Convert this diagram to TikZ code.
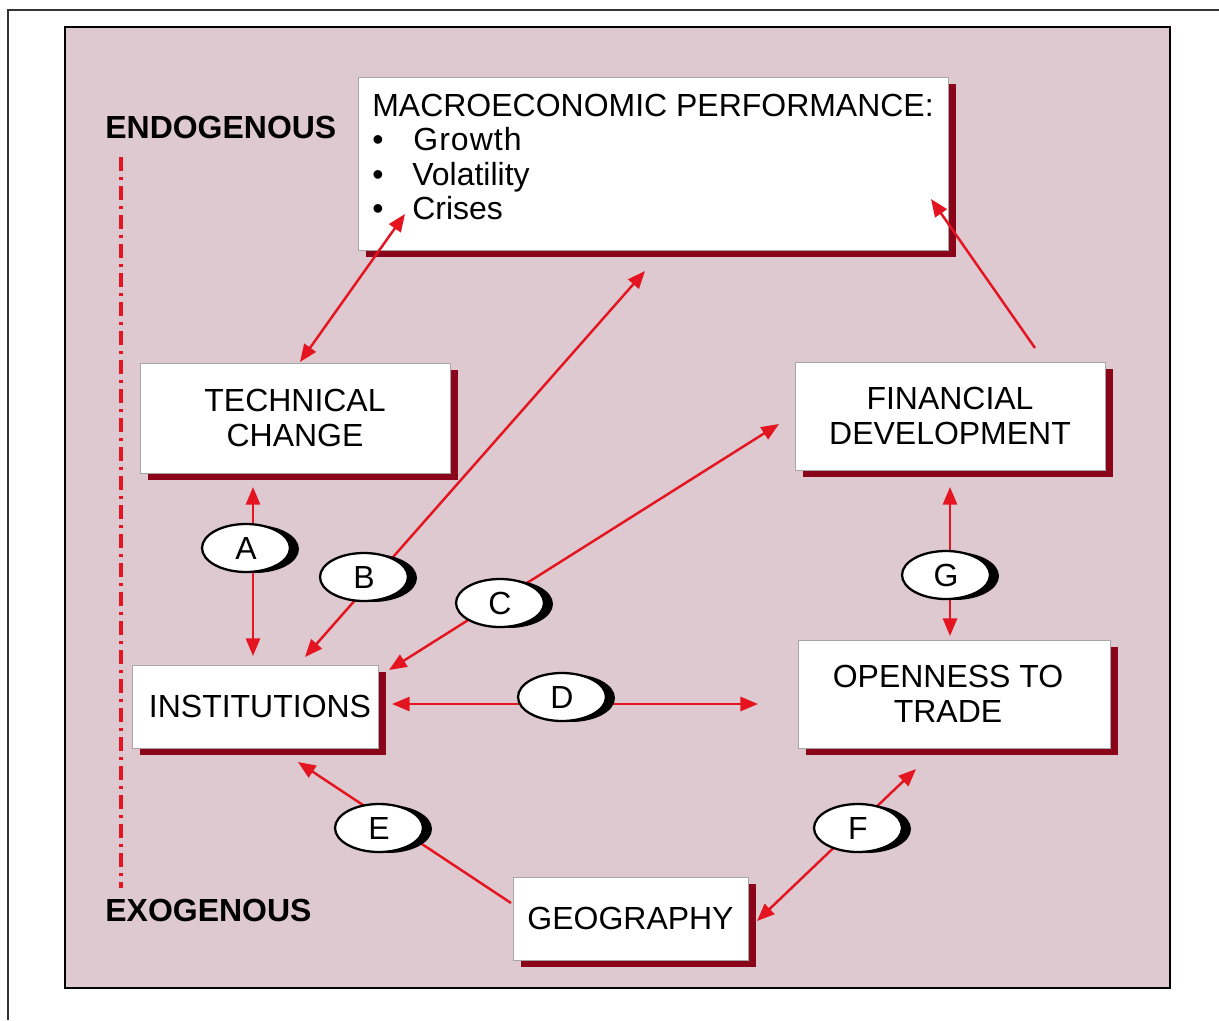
\documentclass[tikz,border=0pt]{standalone}
\usepackage{fontspec}
\setmainfont{Liberation Sans}
\usetikzlibrary{shapes.geometric,shadows,arrows.meta,calc}
\definecolor{bgpink}{RGB}{221,201,207}
\definecolor{ared}{RGB}{228,20,32}
\definecolor{sred}{RGB}{138,4,26}
\newcommand{\fsz}{\fontsize{18.2pt}{19.6pt}\selectfont}
\begin{document}
\begin{tikzpicture}[x=0.02cm,y=-0.02cm,
  box/.style={rectangle, draw=black!35, line width=0.5pt, fill=white, inner sep=0pt, align=center, font=\fsz,
     drop shadow={shadow xshift=0.16cm, shadow yshift=-0.14cm, fill=sred, opacity=1}},
  lab/.style={ellipse, draw=black, line width=1.3pt, fill=white, minimum width=1.76cm, minimum height=0.96cm, inner sep=0pt, font=\fsz,
     drop shadow={shadow xshift=0.18cm, shadow yshift=-0.02cm, fill=black, opacity=1}},
  txt/.style={inner sep=0pt, font=\fsz},
  redline/.style={draw=ared, line width=1.4pt},
  >={Triangle[length=10pt,width=8pt]}]

% canvas and frames
\path[use as bounding box, fill=white] (0,0) rectangle (1219,1020);
\draw[black!80, line width=0.9pt] (1219,10) -- (8,10) -- (8,1020);
\draw[black, line width=1.2pt, fill=bgpink] (65,27) rectangle (1170,988);

% side labels
\node[txt, font=\fsz\bfseries, anchor=west] (endo) at (105,127) {ENDOGENOUS};
\node[txt, font=\fsz\bfseries, anchor=west] (exo) at (105,910) {EXOGENOUS};
\coordinate (dtop) at (121,157);
\coordinate (dbot) at (121,888);
\draw[ared, line width=1.8pt, dash pattern=on 8pt off 3.5pt on 1.5pt off 3.5pt] (dtop) -- (dbot);

% boxes
\node[box, minimum width=11.8cm, minimum height=3.46cm] (macro) at (653,163.5) {};
\node[txt, anchor=base west] (mt) at (372,117) {MACROECONOMIC PERFORMANCE:};
\node[txt, anchor=base west] (m1) at (372,151) {\makebox[0.82cm][l]{•}G\kern0.6pt r\kern0.6pt o\kern0.6pt w\kern0.6pt t\kern0.6pt h};
\node[txt, anchor=base west] (m2) at (372,186) {\makebox[0.8cm][l]{•}Volatility};
\node[txt, anchor=base west] (m3) at (372,220) {\makebox[0.8cm][l]{•}Crises};

\node[box, minimum width=6.2cm, minimum height=2.2cm] (tech) at (295,418) {TECHNICAL\\CHANGE};
\node[box, minimum width=6.2cm, minimum height=2.16cm] (fin) at (950,416) {FINANCIAL\\DEVELOPMENT};
\node[box, minimum width=4.92cm, minimum height=1.66cm] (inst) at (255,706.5) {\hspace{0.2cm}INSTITUTIONS};
\node[box, minimum width=6.24cm, minimum height=2.16cm] (open) at (954,694) {OPENNESS TO\hspace{0.24cm}\mbox{}\\TRADE\hspace{0.24cm}\mbox{}};
\node[box, minimum width=4.7cm, minimum height=1.66cm] (geo) at (630.5,918.5) {GEOGRAPHY};

% connector end points
\coordinate (tTop) at (300,362);   \coordinate (mLeft) at (405,214);
\coordinate (iB) at (305,657);     \coordinate (mB) at (645,271);
\coordinate (iC) at (389,670);     \coordinate (fC) at (779,424);
\coordinate (tA) at (253,487);     \coordinate (iA) at (253,656);
\coordinate (iD) at (392,704);     \coordinate (oD) at (758,704);
\coordinate (fG) at (950,487);     \coordinate (oG) at (950,636);
\coordinate (fTop) at (1035,348);  \coordinate (mRight) at (931,199);
\coordinate (gE) at (511,903);     \coordinate (iE) at (298,762);
\coordinate (gF) at (757,921);     \coordinate (oF) at (916,769);

% connectors
\draw[redline,<->] (tTop) -- (mLeft);
\draw[redline,<->] (iB) -- (mB);
\draw[redline,<->] (iC) -- (fC);
\draw[redline,<->] (tA) -- (iA);
\draw[redline,<->] (iD) -- (oD);
\draw[redline,<->] (fG) -- (oG);
\draw[redline,->] (fTop) -- (mRight);
\draw[redline,->] (gE) -- (iE);
\draw[redline,<->] (gF) -- (oF);

% ellipse labels
\node[lab] (A) at (246,548) {A};
\node[lab] (B) at (364,577) {B};
\node[lab] (C) at (500,603) {C};
\node[lab] (D) at (562,697) {D};
\node[lab] (E) at (379,828) {E};
\node[lab] (F) at (858,828) {F};
\node[lab] (G) at (946,575) {G};
\end{tikzpicture}
\end{document}
